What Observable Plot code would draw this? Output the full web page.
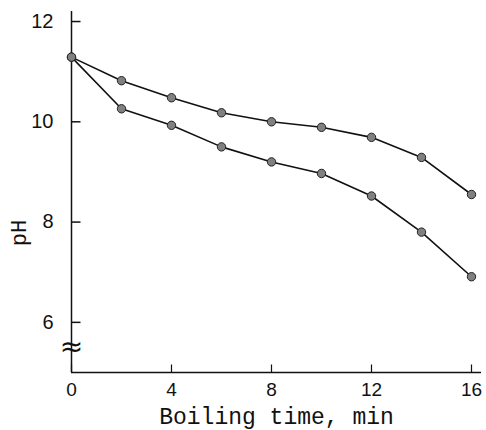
<!DOCTYPE html>
<html>
<head>
<meta charset="utf-8">
<script src="https://cdn.jsdelivr.net/npm/d3@7"></script>
<script src="https://cdn.jsdelivr.net/npm/@observablehq/plot@0.6"></script>
<style>
  html, body { margin: 0; padding: 0; background: #fff; }
  svg { display: block; }
</style>
</head>
<body>
<div id="chart"></div>
<script>
const times = [0, 2, 4, 6, 8, 10, 12, 14, 16];
const upperPH = [11.29, 10.82, 10.48, 10.18, 10.0, 9.89, 9.69, 9.29, 8.55];
const lowerPH = [11.29, 10.26, 9.93, 9.50, 9.20, 8.97, 8.52, 7.80, 6.91];
const xTicks = [0, 4, 8, 12, 16];
const yTicks = [6, 8, 10, 12];
const xLabel = "Boiling time, min";
const yLabel = "pH";

const data = [
  ...times.map((t, i) => ({time: t, pH: upperPH[i], series: "upper"})),
  ...times.map((t, i) => ({time: t, pH: lowerPH[i], series: "lower"}))
];

const fmt = d3.format("d");

// inward tick glyphs (custom symbols)
const tickRight = {draw(ctx) { ctx.moveTo(0, 0); ctx.lineTo(9, 0); }};
const tickUp = {draw(ctx) { ctx.moveTo(0, 0); ctx.lineTo(0, -8); }};

const chart = Plot.plot({
  width: 486,
  height: 430,
  marginLeft: 71,
  marginRight: 5,
  marginTop: 11,
  marginBottom: 58,
  style: {background: "#fff", color: "#111"},
  x: {domain: [0, 16.4]},
  y: {domain: [5, 12.2]},
  marks: [
    Plot.ruleX([0], {stroke: "#111", strokeWidth: 1.5}),
    Plot.ruleY([5], {stroke: "#111", strokeWidth: 1.5}),
    Plot.dot(yTicks, {x: 0, y: d => d, symbol: tickRight, stroke: "#111", fill: "none", strokeWidth: 1.5}),
    Plot.dot(xTicks, {x: d => d, y: 5, symbol: tickUp, stroke: "#111", fill: "none", strokeWidth: 1.2}),
    Plot.axisY(yTicks, {tickSize: 0, tickPadding: 18, tickFormat: fmt, fontSize: 20, fontFamily: "Liberation Sans", label: null}),
    Plot.axisX(xTicks, {tickSize: 0, tickPadding: 10, tickFormat: fmt, fontSize: 19, fontFamily: "Liberation Sans", label: null}),
    Plot.text(["≈"], {x: 0, y: 5.5, text: d => d, fontSize: 28, fontFamily: "DejaVu Sans", fill: "#111"}),
    Plot.line(data, {x: "time", y: "pH", z: "series", stroke: "#111", strokeWidth: 1.6}),
    Plot.dot(data, {x: "time", y: "pH", r: 4.2, fill: "#808080", stroke: "#222", strokeWidth: 1}),
    Plot.text([yLabel], {frameAnchor: "left", y: 7.78, text: d => d, rotate: -90, dx: -53, textAnchor: "middle", lineAnchor: "middle", fontSize: 22, fontFamily: "Liberation Mono", fill: "#111"}),
    Plot.text([xLabel], {frameAnchor: "bottom", text: d => d, dy: 44, textAnchor: "middle", lineAnchor: "middle", fontSize: 23, fontFamily: "Liberation Mono", fill: "#111"})
  ]
});
document.getElementById("chart").appendChild(chart);
</script>
</body>
</html>
